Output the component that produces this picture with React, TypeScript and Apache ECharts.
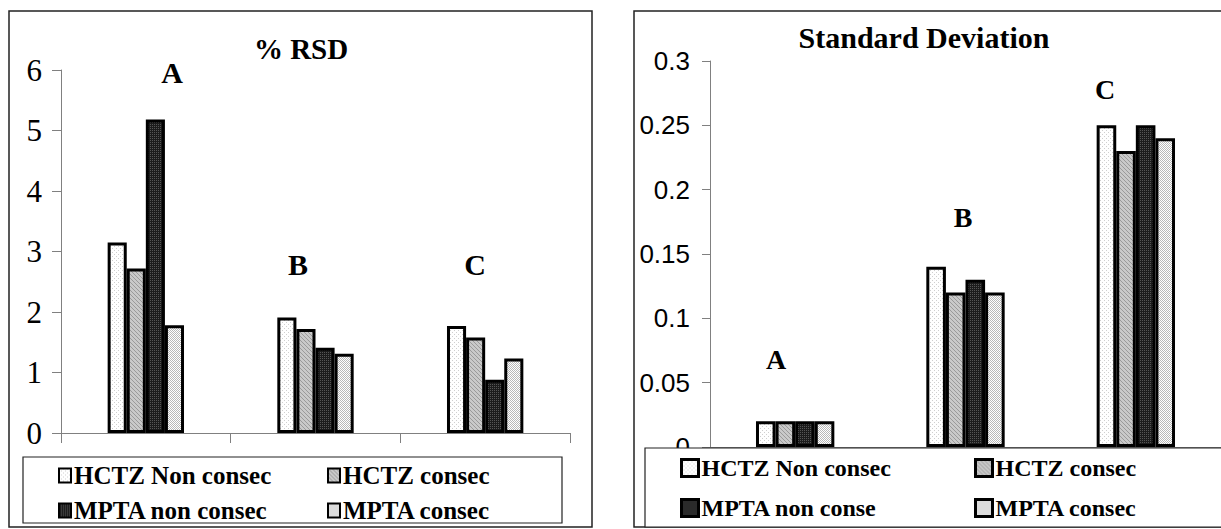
import React, { useEffect, useRef } from "react";
import * as echarts from "echarts";

// Formulations / groups along the category axis
const categories = ["A", "B", "C"];

// %RSD values per series
const rsdHctzNonConsec = [3.15, 1.91, 1.77];
const rsdHctzConsec = [2.72, 1.72, 1.58];
const rsdMptaNonConsec = [5.18, 1.41, 0.88];
const rsdMptaConsec = [1.78, 1.31, 1.23];

// Standard deviation values per series
const sdHctzNonConsec = [0.02, 0.14, 0.25];
const sdHctzConsec = [0.02, 0.12, 0.23];
const sdMptaNonConsec = [0.02, 0.13, 0.25];
const sdMptaConsec = [0.02, 0.12, 0.24];

const leftNames = ["HCTZ Non consec", "HCTZ consec", "MPTA non consec", "MPTA consec"];
const rightNames = ["HCTZ Non consec", "HCTZ consec", "MPTA non conse", "MPTA consec"];

const SERIF = "Liberation Serif";
const SANS = "Liberation Sans";

function makePattern(bg: string, fg: string, cells: [number, number][], size = 4) {
  const c = document.createElement("canvas");
  c.width = size;
  c.height = size;
  const ctx = c.getContext("2d")!;
  ctx.fillStyle = bg;
  ctx.fillRect(0, 0, size, size);
  ctx.fillStyle = fg;
  cells.forEach(([x, y]) => ctx.fillRect(x, y, 1, 1));
  return { image: c, repeat: "repeat" as const };
}

export default function App() {
  const ref = useRef<HTMLDivElement>(null);

  useEffect(() => {
    if (!ref.current) return;
    const chart = echarts.init(ref.current, undefined, { renderer: "svg" });

    const fills = [
      makePattern("#ffffff", "#cfcfcf", [[0, 0], [2, 2]]),
      makePattern("#c9c9c9", "#9a9a9a", [[0, 0], [1, 1], [2, 2], [3, 3]]),
      makePattern("#1c1c1c", "#555555", [[0, 0], [2, 0], [0, 2], [2, 2]]),
      makePattern("#ffffff", "#b8b8b8", [[0, 0], [2, 0], [1, 1], [3, 1], [0, 2], [2, 2], [1, 3], [3, 3]]),
    ];

    const leftData = [rsdHctzNonConsec, rsdHctzConsec, rsdMptaNonConsec, rsdMptaConsec];
    const rightData = [sdHctzNonConsec, sdHctzConsec, sdMptaNonConsec, sdMptaConsec];

    const barSeries = (names: string[], data: number[][], axisIndex: number, gap: string) =>
      data.map((d, i) => ({
        type: "bar" as const,
        name: names[i],
        xAxisIndex: axisIndex,
        yAxisIndex: axisIndex,
        data: d,
        barGap: "0%",
        barCategoryGap: gap,
        itemStyle: { color: fills[i], borderColor: "#000", borderWidth: 3 },
      }));

    const legendCol = (
      names: string[],
      left: number,
      top: number,
      fontSize: number,
      iconW: number,
      iconH: number,
      gap: number,
      lineHeight: number,
      borderWidth: number
    ) => ({
      orient: "vertical" as const,
      left,
      top,
      padding: 0,
      itemGap: gap,
      itemWidth: iconW,
      itemHeight: iconH,
      selectedMode: false,
      icon: "rect",
      data: names,
      itemStyle: { borderColor: "#000", borderWidth },
      textStyle: {
        fontFamily: SERIF,
        fontWeight: "bold" as const,
        fontSize,
        color: "#000",
        lineHeight,
        padding: [0, 0, 0, -2],
      },
    });

    const letter = (text: string, x: number, y: number, size: number) => ({
      type: "text" as const,
      x,
      y,
      z: 10,
      style: {
        text,
        fontFamily: SERIF,
        fontWeight: "bold",
        fontSize: size,
        fill: "#000",
        align: "center",
        verticalAlign: "middle",
      },
    });

    chart.setOption({
      animation: false,
      backgroundColor: "#fff",
      textStyle: { fontFamily: SERIF },
      title: [
        {
          text: "% RSD",
          left: 301,
          top: 34,
          textAlign: "center",
          padding: 0,
          textStyle: { fontFamily: SERIF, fontWeight: "bold", fontSize: 29, color: "#000" },
        },
        {
          text: "Standard Deviation",
          left: 924,
          top: 22,
          textAlign: "center",
          padding: 0,
          textStyle: { fontFamily: SERIF, fontWeight: "bold", fontSize: 30, color: "#000" },
        },
      ],
      grid: [
        { left: 61, top: 70, width: 509, height: 363 },
        { left: 710, top: 61, width: 520, height: 386 },
      ],
      xAxis: [
        {
          type: "category",
          gridIndex: 0,
          data: categories,
          axisLine: { lineStyle: { color: "#808080", width: 1 } },
          axisTick: { show: true, length: 10, lineStyle: { color: "#808080" } },
          axisLabel: { show: false },
        },
        {
          type: "category",
          gridIndex: 1,
          data: categories,
          axisLine: { lineStyle: { color: "#808080", width: 1 } },
          axisTick: { show: true, length: 10, lineStyle: { color: "#808080" } },
          axisLabel: { show: false },
        },
      ],
      yAxis: [
        {
          type: "value",
          gridIndex: 0,
          min: 0,
          max: 6,
          interval: 1,
          splitLine: { show: false },
          axisLine: { show: true, lineStyle: { color: "#808080", width: 1 } },
          axisTick: { show: true, length: 9, lineStyle: { color: "#808080" } },
          axisLabel: { margin: 19, fontFamily: SERIF, fontSize: 31, color: "#000" },
        },
        {
          type: "value",
          gridIndex: 1,
          min: 0,
          max: 0.3,
          interval: 0.05,
          splitLine: { show: false },
          axisLine: { show: true, lineStyle: { color: "#808080", width: 1 } },
          axisTick: { show: true, length: 8, lineStyle: { color: "#808080" } },
          axisLabel: { margin: 20, fontFamily: SANS, fontSize: 26, color: "#000" },
        },
      ],
      legend: [
        legendCol([leftNames[0], leftNames[2]], 58, 463, 25, 12, 14, 10, 22, 2),
        legendCol([leftNames[1], leftNames[3]], 327, 463, 25, 12, 14, 10, 22, 2),
        legendCol([rightNames[0], rightNames[2]], 680, 456, 24, 17, 17, 16, 24, 3),
        legendCol([rightNames[1], rightNames[3]], 974, 456, 24, 17, 17, 16, 24, 3),
      ],
      graphic: [
        // outer frames of the two panels
        {
          type: "rect",
          z: -1,
          shape: { x: 9, y: 11, width: 583, height: 516 },
          style: { fill: "none", stroke: "#222", lineWidth: 1.5 },
        },
        {
          type: "rect",
          z: -1,
          shape: { x: 634, y: 11, width: 700, height: 516 },
          style: { fill: "none", stroke: "#222", lineWidth: 1.5 },
        },
        // legend boxes
        {
          type: "rect",
          z: 3,
          shape: { x: 23, y: 457, width: 539, height: 66 },
          style: { fill: "#fff", stroke: "#222", lineWidth: 1.2 },
        },
        {
          type: "rect",
          z: 3,
          shape: { x: 645, y: 448, width: 700, height: 79 },
          style: { fill: "#fff", stroke: "#222", lineWidth: 1.2 },
        },
        // group annotations
        letter("A", 172, 72, 30),
        letter("B", 298, 264, 30),
        letter("C", 475, 264, 30),
        letter("A", 776, 359, 28),
        letter("B", 963, 217, 28),
        letter("C", 1105, 89, 28),
      ],
      series: [
        ...barSeries(leftNames, leftData, 0, "55%"),
        ...barSeries(rightNames, rightData, 1, "54%"),
      ],
    });

    return () => chart.dispose();
  }, []);

  return (
    <div
      ref={ref}
      style={{ position: "fixed", left: 0, top: 0, width: 1221, height: 529, background: "#fff" }}
    />
  );
}
